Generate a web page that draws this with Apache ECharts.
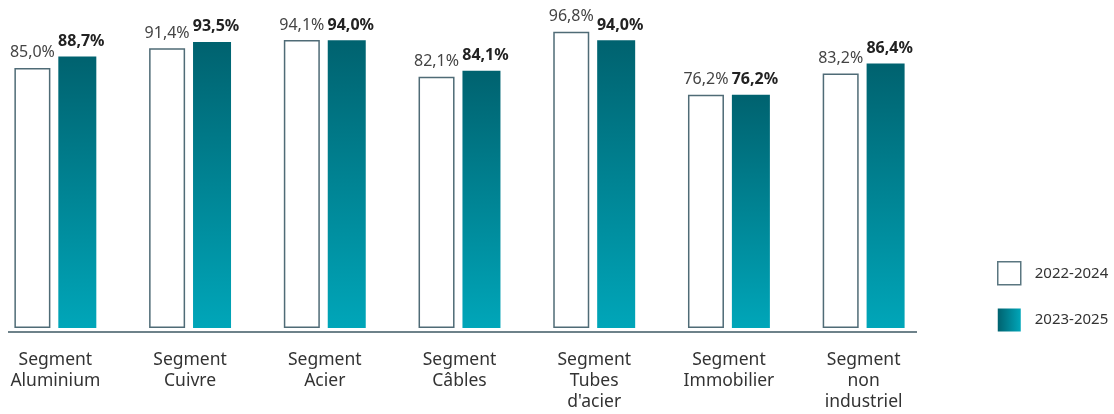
<!DOCTYPE html>
<html>
<head>
<meta charset="utf-8">
<script src="https://cdn.jsdelivr.net/npm/echarts@6/dist/echarts.min.js"></script>
<style>html,body{margin:0;padding:0;background:#fff}#c{width:1114px;height:414px}</style>
</head>
<body>
<div id="c"></div>
<script>
const categories = ['Segment\nAluminium', 'Segment\nCuivre', 'Segment\nAcier', 'Segment\nCâbles', 'Segment\nTubes\nd\'acier', 'Segment\nImmobilier', 'Segment\nnon\nindustriel'];
const seriesNames = ['2022-2024', '2023-2025'];
const values2022_2024 = [85.0, 91.4, 94.1, 82.1, 96.8, 76.2, 83.2];
const values2023_2025 = [88.7, 93.5, 94.0, 84.1, 94.0, 76.2, 86.4];

const FONT = '"Noto Sans", sans-serif';
const fmt = p => p.value.toFixed(1).replace('.', ',') + '%';
const tealV = new echarts.graphic.LinearGradient(0, 0, 0, 1, [{offset: 0, color: '#00626f'}, {offset: 1, color: '#00a6b9'}]);
const tealH = new echarts.graphic.LinearGradient(0, 0, 1, 0, [{offset: 0, color: '#00626f'}, {offset: 1, color: '#00a6b9'}]);

const chart = echarts.init(document.getElementById('c'), null, {renderer: 'canvas'});
chart.setOption({
  animation: false,
  backgroundColor: '#fff',
  grid: {left: -12, width: 943, top: 22, bottom: 86, containLabel: false, outerBoundsMode: 'none'},
  legend: {
    orient: 'vertical', left: 992, top: 256,
    itemWidth: 23, itemHeight: 23, itemGap: 23,
    textStyle: {fontFamily: FONT, fontSize: 15, color: '#333', padding: [0, 0, 0, 9]},
    data: [
      {name: seriesNames[0], icon: 'rect', itemStyle: {color: '#fff', borderColor: '#5a7680', borderWidth: 1.5}},
      {name: seriesNames[1], icon: 'rect', itemStyle: {color: tealH, borderWidth: 0}}
    ]
  },
  xAxis: {
    type: 'category', data: categories,
    axisLine: {show: false}, axisTick: {show: false},
    axisLabel: {fontFamily: FONT, fontSize: 17.5, color: '#333', lineHeight: 21, margin: 22, interval: 0}
  },
  yAxis: {type: 'value', min: 0, max: 100, show: false, splitLine: {show: false}},
  graphic: [{type: 'line', shape: {x1: 8, y1: 332, x2: 917, y2: 332}, style: {stroke: '#3e5863', lineWidth: 1.5}}],
  series: [
    {
      name: seriesNames[0], type: 'bar', data: values2022_2024, barWidth: 36, barGap: '22%',
      itemStyle: {color: '#fff', borderColor: '#4f6b76', borderWidth: 1.5},
      label: {show: true, position: 'top', distance: 7, formatter: fmt, fontFamily: FONT, fontSize: 16, color: '#444'}
    },
    {
      name: seriesNames[1], type: 'bar', data: values2023_2025, barWidth: 38,
      itemStyle: {color: tealV},
      label: {show: true, position: 'top', distance: 7, offset: [4, 0], formatter: fmt, fontFamily: FONT, fontSize: 16, fontWeight: 'bold', color: '#222'}
    }
  ]
});
</script>
</body>
</html>
